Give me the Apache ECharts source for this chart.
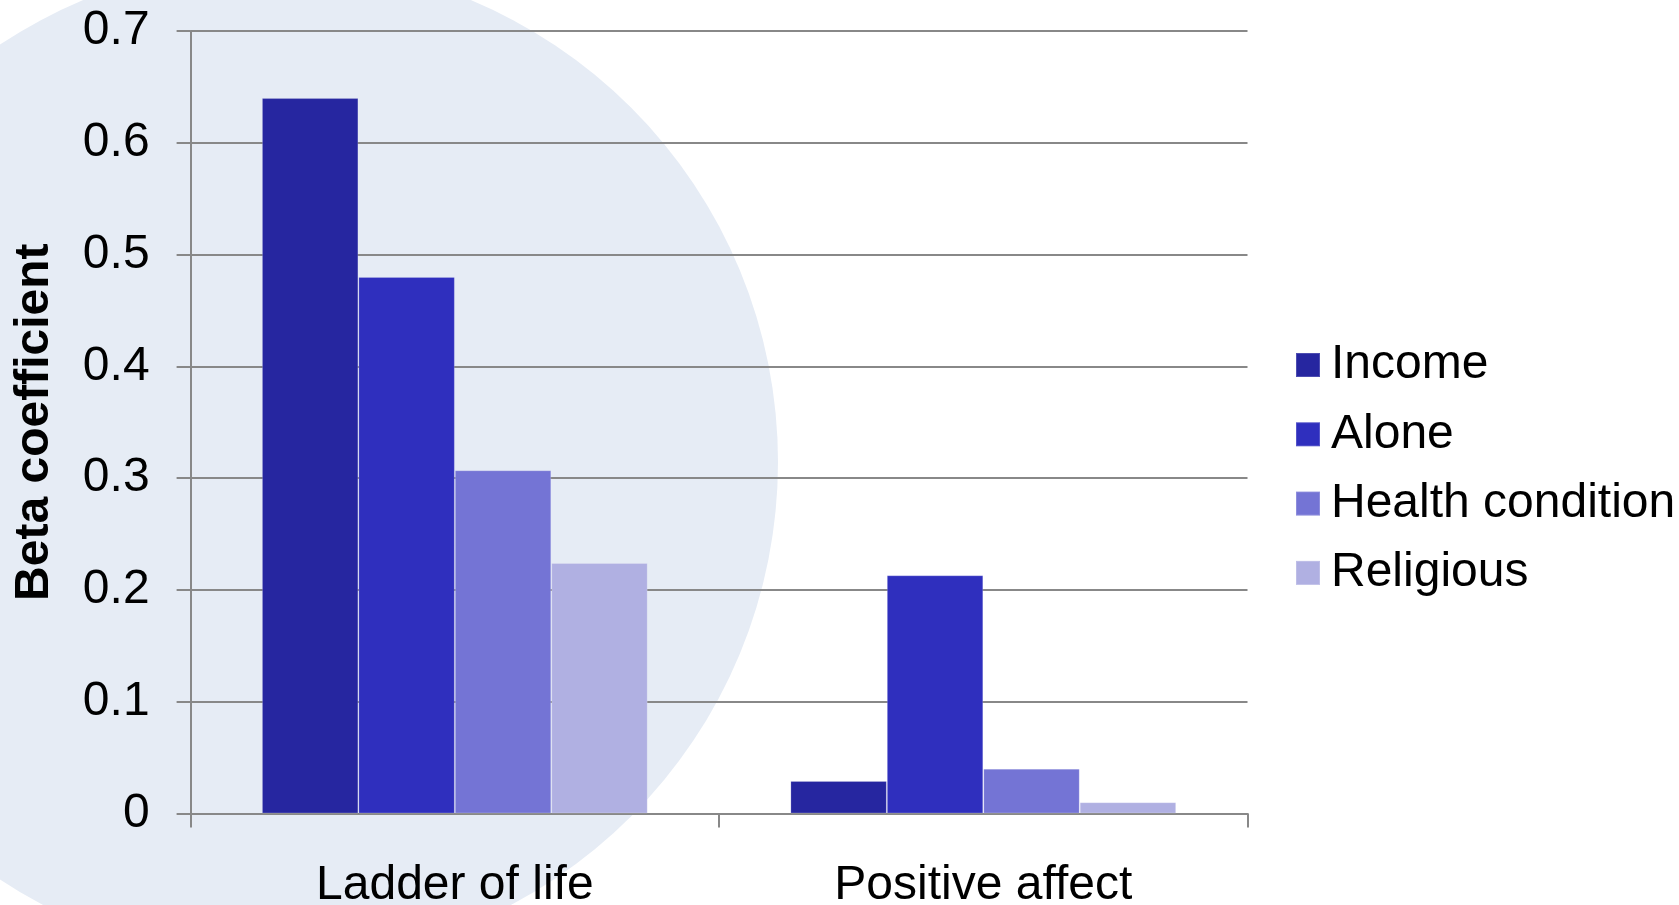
<!DOCTYPE html>
<html>
<head>
<meta charset="utf-8">
<script src="https://cdn.jsdelivr.net/npm/echarts@6/dist/echarts.min.js"></script>
<style>
html,body{margin:0;padding:0;background:#fff;}
#main{width:1679px;height:905px;}
</style>
</head>
<body>
<div id="main"></div>
<script>
const categories = ['Ladder of life', 'Positive affect'];
const seriesNames = ['Income', 'Alone', 'Health condition', 'Religious'];
const incomeValues = [0.64, 0.029];
const aloneValues = [0.48, 0.213];
const healthValues = [0.307, 0.040];
const religiousValues = [0.224, 0.010];
const yTicks = { min: 0, max: 0.7, interval: 0.1 };
const colors = ['#2626A0', '#2F2FBE', '#7474D5', '#B0B0E2'];

const FONT = '"Liberation Sans", Arial, Helvetica, sans-serif';
const chart = echarts.init(document.getElementById('main'), null, { renderer: 'canvas' });
const valueLists = [incomeValues, aloneValues, healthValues, religiousValues];

chart.setOption({
  backgroundColor: '#ffffff',
  animation: false,
  textStyle: { fontFamily: FONT },
  graphic: [{
    type: 'circle',
    z: -100,
    silent: true,
    shape: { cx: 277, cy: 462, r: 501 },
    style: { fill: '#E6ECF5' }
  }],
  grid: { left: 190.6, right: 431.5, top: 31, bottom: 91.6, containLabel: false, outerBoundsMode: 'none' },
  legend: {
    orient: 'vertical',
    left: 1295,
    top: 341,
    padding: 0,
    itemWidth: 24,
    itemHeight: 24,
    itemGap: 21.3,
    icon: 'rect',
    data: seriesNames,
    textStyle: { fontFamily: FONT, fontSize: 48, lineHeight: 48, color: '#000', padding: [0, 0, 0, 6] }
  },
  xAxis: {
    type: 'category',
    data: categories,
    axisLine: { lineStyle: { color: '#888888', width: 2 } },
    axisTick: { show: true, length: 14, lineStyle: { color: '#888888', width: 2 } },
    axisLabel: { fontFamily: FONT, fontSize: 48, color: '#000', margin: 48 },
    splitLine: { show: false }
  },
  yAxis: {
    type: 'value',
    min: yTicks.min,
    max: yTicks.max,
    interval: yTicks.interval,
    name: 'Beta coefficient',
    nameLocation: 'middle',
    nameRotate: 90,
    nameGap: 132,
    nameTextStyle: { fontFamily: FONT, fontSize: 48, fontWeight: 'bold', color: '#000' },
    axisLine: { show: true, lineStyle: { color: '#888888', width: 2 } },
    axisTick: { show: true, length: 14, lineStyle: { color: '#888888', width: 2 } },
    axisLabel: { fontFamily: FONT, fontSize: 48, color: '#000', margin: 41,
      formatter: v => (Math.round(v * 10) / 10).toString() },
    splitLine: { show: true, lineStyle: { color: '#888888', width: 2 } }
  },
  series: seriesNames.map((name, i) => ({
    name: name,
    type: 'bar',
    data: valueLists[i],
    barGap: '0%',
    barCategoryGap: '27%',
    itemStyle: { color: colors[i], borderColor: 'rgba(255,255,255,0.18)', borderWidth: 1 }
  }))
});
</script>
</body>
</html>
